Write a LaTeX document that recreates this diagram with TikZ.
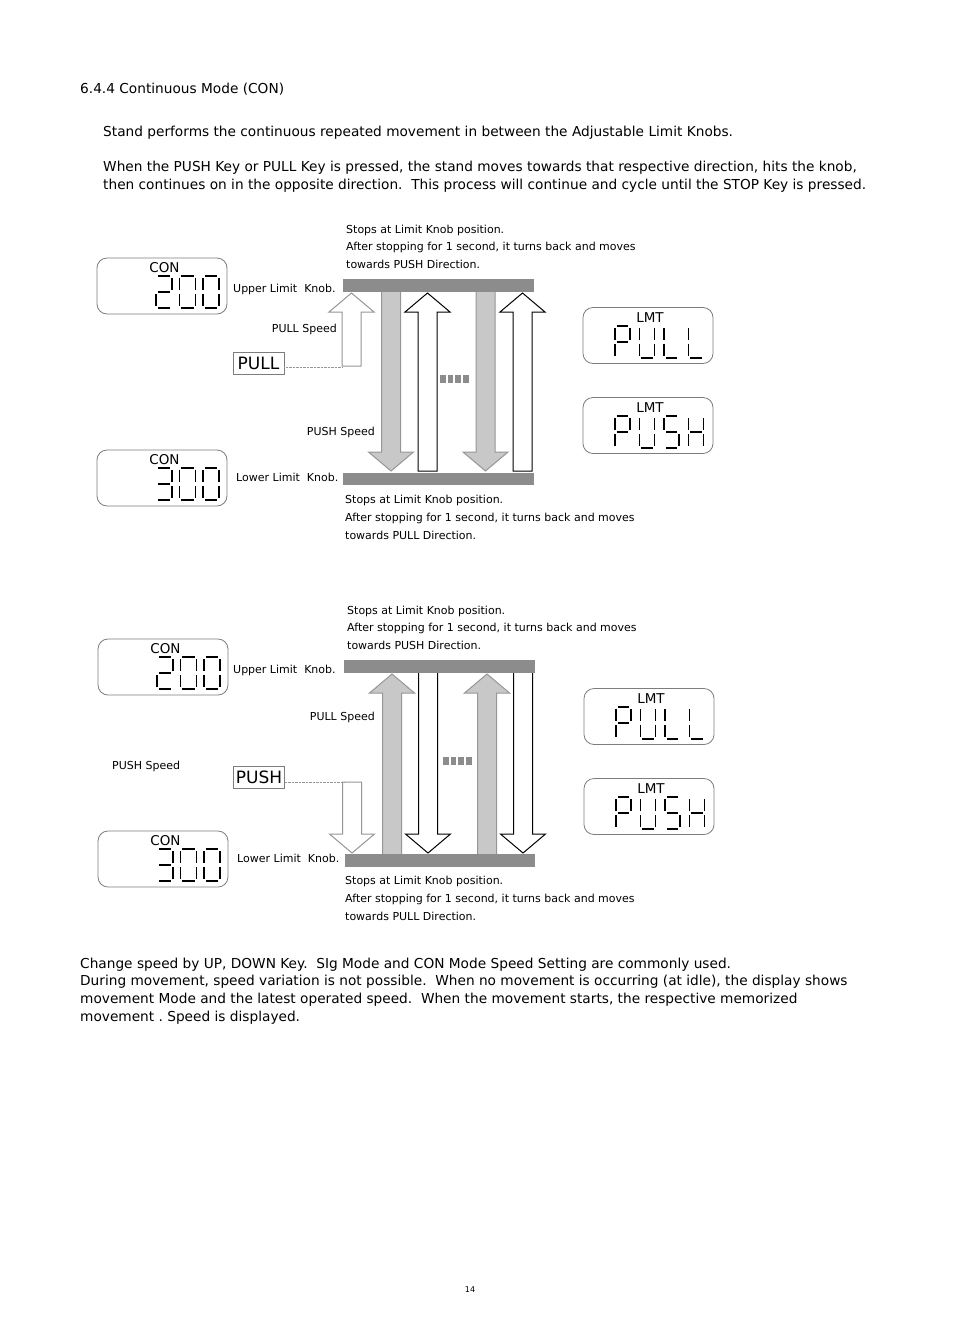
\documentclass[tikz,border=0pt]{standalone}
\usepackage{fontspec}
\setmainfont{DejaVu Sans}
\frenchspacing
\definecolor{KnobGray}{RGB}{140,140,140}
\definecolor{ArrowGray}{RGB}{200,200,200}
\definecolor{EdgeGray}{RGB}{150,150,150}
\definecolor{FrameGray}{RGB}{125,125,125}
\newcommand\lcdsega{(0,0)--(1,0)}
\newcommand\lcdsegb{(1,0)--(1,1)}
\newcommand\lcdsegc{(1,1)--(1,2)}
\newcommand\lcdsegd{(0,2)--(1,2)}
\newcommand\lcdsege{(0,1)--(0,2)}
\newcommand\lcdsegf{(0,0)--(0,1)}
\newcommand\lcdsegg{(0,1)--(1,1)}
\newcommand\lcdzero{a,b,c,d,e,f}
\newcommand\lcdtwo{a,b,g,e,d}
\newcommand\lcdthree{a,b,g,c,d}
\newcommand\lcdP{a,b,g,e,f}
\newcommand\lcdU{b,c,d,e,f}
\newcommand\lcdL{f,e,d}
\newcommand\lcdS{a,f,g,c,d}
\newcommand\lcdH{b,c,e,f,g}
\newcommand\lcdsegs[1]{\edef\lcdlist{#1}%
  \foreach \sg in \lcdlist {\edef\lcdtmp{\noexpand\draw[lcdseg] \csname lcdseg\sg\endcsname;}\lcdtmp}}
\newcommand\lcddigit[4]{\begin{scope}[shift={(#1,#2)},x=#3pt,y=-16pt]\lcdsegs{#4}\end{scope}}
\newcommand\blockup[4][]{\draw[#1] (#2-9.5,#4) -- (#2-9.5,#3+19) -- (#2-22.5,#3+19) -- (#2,#3)
  -- (#2+22.5,#3+19) -- (#2+9.5,#3+19) -- (#2+9.5,#4) -- cycle;}
\newcommand\blockdown[4][]{\draw[#1] (#2-9.5,#3) -- (#2-9.5,#4-19) -- (#2-22.5,#4-19) -- (#2,#4)
  -- (#2+22.5,#4-19) -- (#2+9.5,#4-19) -- (#2+9.5,#3) -- cycle;}
\begin{document}
\begin{tikzpicture}[x=1pt,y=-1pt,
  txt/.style={anchor=base west,inner sep=0pt,font=\fontsize{13.7}{16}\selectfont},
  small/.style={anchor=base west,inner sep=0pt,font=\fontsize{11}{13}\selectfont},
  lcd/.style={draw=FrameGray,line width=0.8pt,rounded corners=10pt,minimum width=130pt,minimum height=56pt,inner sep=0pt},
  lcdlabel/.style={anchor=base,inner sep=0pt,font=\fontsize{13.5}{15}\selectfont},
  lcdseg/.style={line width=1.5pt,shorten <=1.8pt,shorten >=1.8pt},
  keybox/.style={draw=FrameGray,line width=0.7pt,minimum width=51pt,minimum height=22pt,inner sep=0pt,font=\fontsize{17}{19}\selectfont},
  outl/.style={draw=EdgeGray,fill=white,line width=1pt},
  grayarr/.style={draw=EdgeGray,fill=ArrowGray,line width=1pt},
  blackarr/.style={draw=black,fill=white,line width=1pt},
  knob/.style={fill=KnobGray},
  dotline/.style={draw=EdgeGray,line width=0.6pt,dash pattern=on 0.6pt off 0.8pt}]
\fill[white] (0,0) rectangle (954,1339);
\useasboundingbox (0,0) rectangle (954,1339);

\node[txt] (head) at (80,93) {6.4.4 Continuous Mode (CON)};
\node[txt] (intro1) at (103,136) {Stand performs the continuous repeated movement in between the Adjustable Limit Knobs.};
\node[txt] (intro2) at (103,171) {When the PUSH Key or PULL Key is pressed, the stand moves towards that respective direction, hits the knob,};
\node[txt] (intro3) at (103,189) {then continues on in the opposite direction.\ \ This process will continue and cycle until the STOP Key is pressed.};

\node[small] (capA1) at (346,233) {Stops at Limit Knob position.};
\node[small] (capA2) at (346,250) {After stopping for 1 second, it turns back and moves};
\node[small] (capA3) at (346,268) {towards PUSH Direction.};
\node[small] (upA) at (233,292) {Upper Limit\ \ Knob.};
\node[small,anchor=base east] (pullspA) at (337,332) {PULL Speed};
\node[small,anchor=base east] (pushspA) at (375,435) {PUSH Speed};
\node[small] (lowA) at (236,481) {Lower Limit\ \ Knob.};
\node[small] (capB1) at (345,503) {Stops at Limit Knob position.};
\node[small] (capB2) at (345,521) {After stopping for 1 second, it turns back and moves};
\node[small] (capB3) at (345,539) {towards PULL Direction.};

\node[lcd] (con1) at (162,286) {};
\node[lcdlabel] (con1t) at (164.5,272) {CON};
\foreach \dg [count=\i from 0] in {\lcdtwo,\lcdzero,\lcdzero} \lcddigit{156+23.5*\i}{276}{16}{\dg};
\node[lcd] (con2) at (162,478) {};
\node[lcdlabel] (con2t) at (164.5,464) {CON};
\foreach \dg [count=\i from 0] in {\lcdthree,\lcdzero,\lcdzero} \lcddigit{156+23.5*\i}{468}{16}{\dg};
\node[lcd] (lmt1) at (648,335.5) {};
\node[lcdlabel] (lmt1t) at (650,322) {LMT};
\foreach \dg [count=\i from 0] in {\lcdP,\lcdU,\lcdL,\lcdL} \lcddigit{615+24.5*\i}{326}{15}{\dg};
\node[lcd] (lmt2) at (648,425.5) {};
\node[lcdlabel] (lmt2t) at (650,412) {LMT};
\foreach \dg [count=\i from 0] in {\lcdP,\lcdU,\lcdS,\lcdH} \lcddigit{615+24.5*\i}{416}{15}{\dg};

\blockup[outl]{351.5}{293}{366}
\foreach \cx in {391,485.5} \blockdown[grayarr]{\cx}{290}{471};
\foreach \cx in {427.5,522.5} \blockup[blackarr]{\cx}{293}{471};
\fill[knob] (343,279) rectangle (534,292);
\fill[knob] (343,473) rectangle (534,485);
\foreach \k in {0,...,3} \fill[KnobGray] (440+7.7*\k,375) rectangle ++(5.5,8);
\node[keybox] (pullkey) at (258.5,363) {PULL};
\coordinate (pullend) at (342,367);
\draw[dotline] ([yshift=-4pt]pullkey.east) -- (pullend);

\node[small] (capC1) at (347,614) {Stops at Limit Knob position.};
\node[small] (capC2) at (347,631) {After stopping for 1 second, it turns back and moves};
\node[small] (capC3) at (347,649) {towards PUSH Direction.};
\node[small] (upB) at (233,673) {Upper Limit\ \ Knob.};
\node[small,anchor=base east] (pullspB) at (375,720) {PULL Speed};
\node[small] (pushspB) at (112,769) {PUSH Speed};
\node[small] (lowB) at (237,862) {Lower Limit\ \ Knob.};
\node[small] (capD1) at (345,884) {Stops at Limit Knob position.};
\node[small] (capD2) at (345,902) {After stopping for 1 second, it turns back and moves};
\node[small] (capD3) at (345,920) {towards PULL Direction.};

\node[lcd] (con3) at (163,667) {};
\node[lcdlabel] (con3t) at (165.5,653) {CON};
\foreach \dg [count=\i from 0] in {\lcdtwo,\lcdzero,\lcdzero} \lcddigit{157+23.5*\i}{657}{16}{\dg};
\node[lcd] (con4) at (163,859) {};
\node[lcdlabel] (con4t) at (165.5,845) {CON};
\foreach \dg [count=\i from 0] in {\lcdthree,\lcdzero,\lcdzero} \lcddigit{157+23.5*\i}{849}{16}{\dg};
\node[lcd] (lmt3) at (649,716.5) {};
\node[lcdlabel] (lmt3t) at (651,703) {LMT};
\foreach \dg [count=\i from 0] in {\lcdP,\lcdU,\lcdL,\lcdL} \lcddigit{616+24.5*\i}{707}{15}{\dg};
\node[lcd] (lmt4) at (649,806.5) {};
\node[lcdlabel] (lmt4t) at (651,793) {LMT};
\foreach \dg [count=\i from 0] in {\lcdP,\lcdU,\lcdS,\lcdH} \lcddigit{616+24.5*\i}{797}{15}{\dg};

\blockdown[outl]{352}{782}{853}
\foreach \cx in {392,487} \blockup[grayarr]{\cx}{674}{856};
\foreach \cx in {428,523} \blockdown[blackarr]{\cx}{671}{853};
\fill[knob] (344,660) rectangle (535,673);
\fill[knob] (345,854) rectangle (535,867);
\foreach \k in {0,...,3} \fill[KnobGray] (443+7.7*\k,757) rectangle ++(5.5,8);
\node[keybox] (pushkey) at (259,777) {PUSH};
\coordinate (pushend) at (344,782);
\draw[dotline] ([yshift=-5pt]pushkey.east) -- (pushend);

\node[txt] (note1) at (80,968) {Change speed by UP, DOWN Key.\ \ SIg Mode and CON Mode Speed Setting are commonly used.};
\node[txt] (note2) at (80,985) {During movement, speed variation is not possible.\ \ When no movement is occurring (at idle), the display shows};
\node[txt] (note3) at (80,1003) {movement Mode and the latest operated speed.\ \ When the movement starts, the respective memorized};
\node[txt] (note4) at (80,1021) {movement . Speed is displayed.};
\node[inner sep=0pt,font=\fontsize{8}{9}\selectfont] (pageno) at (470,1290) {14};
\end{tikzpicture}
\end{document}
